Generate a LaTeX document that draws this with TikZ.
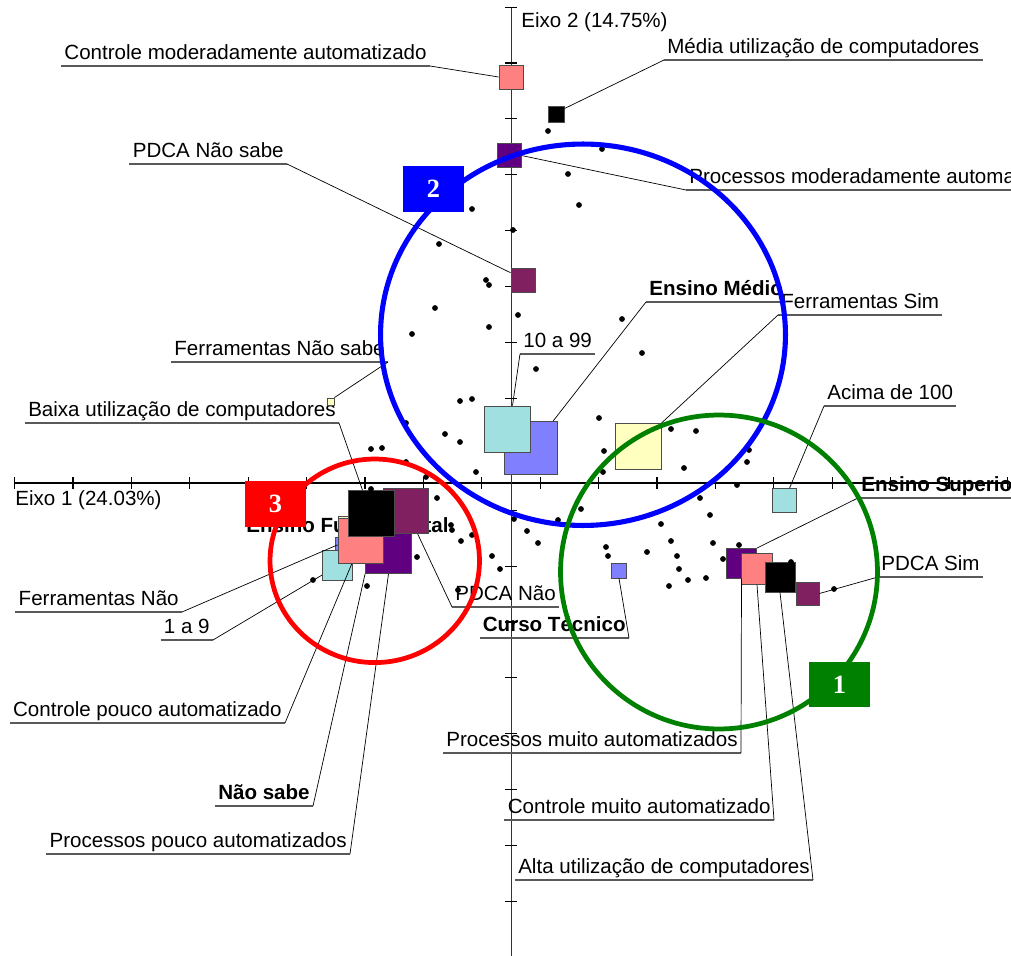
\documentclass[tikz,border=0pt]{standalone}
\usepackage{fontspec}
\setmainfont{Liberation Sans}
\newfontfamily\numserif{Liberation Serif}
\usepackage{xcolor}
\usepackage{tikz}

\definecolor{salmao}{HTML}{FF8080}
\definecolor{roxo}{HTML}{600080}
\definecolor{vinho}{HTML}{802060}
\definecolor{ciano}{HTML}{A0E0E0}
\definecolor{azul}{HTML}{8080FF}
\definecolor{creme}{HTML}{FFFFC0}
\definecolor{verde}{HTML}{008000}

\begin{document}
\begin{tikzpicture}[
    x=0.02cm, y=-0.02cm,
    lab/.style={inner xsep=0.06cm, inner ysep=0.12cm, text depth=0pt, font=\fontsize{11.7}{13}\selectfont},
    blab/.style={lab, font=\bfseries\fontsize{11.7}{13}\selectfont},
    sq/.style={rectangle, draw=black!70, line width=0.5pt, inner sep=0pt, minimum size=#1*0.2mm},
    lead/.style={draw=black, line width=0.4pt},
    uline/.style={draw=black!65, line width=0.7pt},
    grp/.style={line width=2.7pt},
    num/.style={rectangle, fill=#1, text=white, inner sep=0pt, minimum width=1.22cm, minimum height=0.92cm, font=\numserif\bfseries\fontsize{15}{15}\selectfont}
]
\useasboundingbox (0,0) rectangle (1011,956);

\draw[line width=0.6pt] (14,483) -- (1011,483);
\draw[line width=0.5pt, black!80] (511,8) -- (511,956);
\foreach \t in {0,...,17} \draw[line width=0.6pt] (14.6+58.4*\t,477) -- (14.6+58.4*\t,489);
\foreach \t in {0,...,16} \draw[line width=0.6pt] (505,7.1+55.9*\t) -- (517,7.1+55.9*\t);

\node[lab, anchor=base west, inner sep=0pt] (eixo1) at (15,505) {Eixo 1 (24.03\%)};
\node[lab, anchor=base west, inner sep=0pt] (eixo2) at (521,28) {Eixo 2 (14.75\%)};

\node[lab, anchor=south east] (cmodl) at (430,66) {Controle moderadamente automatizado};
\node[lab, anchor=south west] (medial) at (664,60) {Média utilização de computadores};
\node[lab, anchor=south west] (pmodl) at (686,190) {Processos moderadamente automatizados};
\node[lab, anchor=south east] (pnsl) at (287,164) {PDCA Não sabe};
\node[lab, anchor=south east] (fnsl) at (388,362) {Ferramentas Não sabe};
\node[lab, anchor=south east] (baixal) at (339,423) {Baixa utilização de computadores};
\node[lab, anchor=south west] (dezl) at (520,354) {10 a 99};
\node[blab, anchor=south west] (emediol) at (646,302) {Ensino Médio};
\node[lab, anchor=south west] (fsiml) at (778,315) {Ferramentas Sim};
\node[lab, anchor=south west] (acimal) at (824,406) {Acima de 100};
\node[blab, anchor=south west] (esupl) at (858,498) {Ensino Superior};
\node[lab, anchor=south west] (psiml) at (878,577) {PDCA Sim};
\node[blab, anchor=south east] (ctecl) at (629,638) {Curso Técnico};
\node[lab, anchor=south west] (pnaol) at (452,607) {PDCA Não};
\node[blab, anchor=base west, inner sep=0pt] (efundl) at (246,532) {Ensino Fundamental};
\node[lab, anchor=south east] (fnaol) at (182,612) {Ferramentas Não};
\node[lab, anchor=south east] (um9l) at (213,640) {1 a 9};
\node[lab, anchor=south east] (cpoucol) at (285,723) {Controle pouco automatizado};
\node[blab, anchor=south east] (nsabel) at (313,806) {Não sabe};
\node[lab, anchor=south east] (ppoucol) at (350,854) {Processos pouco automatizados};
\node[lab, anchor=south east] (pmuitol) at (741,753) {Processos muito automatizados};
\node[lab, anchor=south east] (cmuitol) at (774,820) {Controle muito automatizado};
\node[lab, anchor=south east] (altal) at (813,880) {Alta utilização de computadores};

\node[sq=24, fill=salmao] (cmod) at (511,77) {};
\node[sq=16, fill=black] (media) at (556,114.5) {};
\node[sq=24, fill=roxo] (pmod) at (509,155.5) {};
\node[sq=24, fill=vinho] (pns) at (523,280.5) {};
\node[sq=7, fill=creme] (fns) at (330.5,401.5) {};
\node[sq=53, fill=azul] (emedio) at (530.5,448) {};
\node[sq=46, fill=ciano] (dez) at (507.5,429) {};
\node[sq=46, fill=creme] (fsim) at (638,446.5) {};
\node[sq=24, fill=ciano] (acima) at (784,500.5) {};
\node[sq=15, fill=azul] (ctec) at (619,570.5) {};
\node[sq=30, fill=roxo] (pmuito) at (741.5,563.5) {};
\node[sq=31, fill=salmao] (cmuito) at (757,569) {};
\node[sq=30, fill=black] (alta) at (780,577) {};
\node[sq=23, fill=vinho] (psim) at (807.5,593.5) {};
\node[sq=44, fill=creme] (fnao) at (360,538) {};
\node[sq=14, fill=azul] (efund) at (342,544) {};
\node[sq=30, fill=ciano] (um9) at (337.5,565) {};
\node[sq=46, fill=roxo] (ppouco) at (388.5,550.5) {};
\node[sq=45, fill=vinho] (pnao) at (406,511) {};
\node[sq=45, fill=salmao] (cpouco) at (361,541) {};
\node[sq=46, fill=black] (baixa) at (371,513.5) {};

\draw[uline] (cmodl.south west) -- (cmodl.south east);
\draw[lead] (cmodl.south east) -- (cmod.west);
\draw[uline] (medial.south west) -- (medial.south east);
\draw[lead] (medial.south west) -- (media.35);
\draw[uline] (pmodl.south west) -- (pmodl.south east);
\draw[lead] (pmodl.south west) -- (pmod.east);
\draw[uline] (pnsl.south west) -- (pnsl.south east);
\draw[lead] (pnsl.south east) -- (pns.148);
\draw[uline] (fnsl.south west) -- (fnsl.south east);
\draw[lead] (fnsl.south east) -- (fns.north east);
\draw[uline] (baixal.south west) -- (baixal.south east);
\draw[lead] (baixal.south east) -- (baixa.110);
\draw[uline] (dezl.south west) -- (dezl.south east);
\draw[lead] (dezl.south west) -- (dez.78);
\draw[uline] (emediol.south west) -- (emediol.south east);
\draw[lead] (emediol.south west) -- (emedio.50);
\draw[uline] (fsiml.south west) -- (fsiml.south east);
\draw[lead] (fsiml.south west) -- (fsim.north east);
\draw[uline] (acimal.south west) -- (acimal.south east);
\draw[lead] (acimal.south west) -- (acima.66);
\draw[uline] (esupl.south west) -- (esupl.south east);
\draw[lead] (esupl.south west) -- (pmuito.north east);
\draw[uline] (psiml.south west) -- (psiml.south east);
\draw[lead] (psiml.south west) -- (psim.east);
\draw[uline] (ctecl.south west) -- (ctecl.south east);
\draw[lead] (ctecl.south east) -- (ctec.south);
\draw[uline] (pnaol.south west) -- (pnaol.south east);
\draw[lead] (pnaol.south west) -- (pnao.297);
\draw[uline] (fnaol.south west) -- (fnaol.south east);
\draw[lead] (fnaol.south east) -- (fnao.197);
\draw[uline] (um9l.south west) -- (um9l.south east);
\draw[lead] (um9l.south east) -- (um9.213);
\draw[uline] (cpoucol.south west) -- (cpoucol.south east);
\draw[lead] (cpoucol.south east) -- (cpouco.248);
\draw[uline] (nsabel.south west) -- (nsabel.south east);
\draw[lead] (nsabel.south east) -- (ppouco.south west);
\draw[uline] (ppoucol.south west) -- (ppoucol.south east);
\draw[lead] (ppoucol.south east) -- (ppouco.south);
\draw[uline] (pmuitol.south west) -- (pmuitol.south east);
\draw[lead] (pmuitol.south east) -- (pmuito.south);
\draw[uline] (cmuitol.south west) -- (cmuitol.south east);
\draw[lead] (cmuitol.south east) -- (cmuito.south);
\draw[uline] (altal.south west) -- (altal.south east);
\draw[lead] (altal.south east) -- (alta.south);

\foreach \x/\y in {548/131, 602/149, 568/174, 579/205, 513/230, 472/209, 439/244, 486/280, 489/285,
    435/308, 518/315, 412/334, 489/327, 622/319, 642/353, 536/369, 460/401, 472/399, 445/434,
    460/442, 406/423, 371/449, 382/448, 406/462, 426/477, 476/472, 371/489, 437/498, 599/418,
    604/451, 603/472, 671/429, 696/431, 684/468, 747/462, 749/450, 737/485, 451/525, 452/530,
    472/535, 461/541, 492/556, 500/569, 417/557, 367/586, 313/580, 458/590, 514/519, 527/531,
    538/543, 558/520, 581/509, 606/547, 608/556, 700/498, 710/515, 661/524, 647/552, 671/541,
    677/556, 679/569, 688/580, 706/578, 669/586, 713/543, 723/559, 739/545, 791/562, 834/589}
  \fill (\x,\y) circle [radius=0.058cm];

\draw[grp, blue, line width=2.9pt] (583,334.75) ellipse [x radius=4.05cm, y radius=3.815cm];
\draw[grp, red] (374.75,560.8) ellipse [x radius=2.095cm, y radius=2.036cm];
\draw[grp, verde] (719,572) ellipse [x radius=3.17cm, y radius=3.14cm];

\node[num=blue] (g2) at (433.5,189) {2};
\node[num=red] (g3) at (275.5,504) {3};
\node[num=verde] (g1) at (839.5,684.5) {1};
\end{tikzpicture}
\end{document}
